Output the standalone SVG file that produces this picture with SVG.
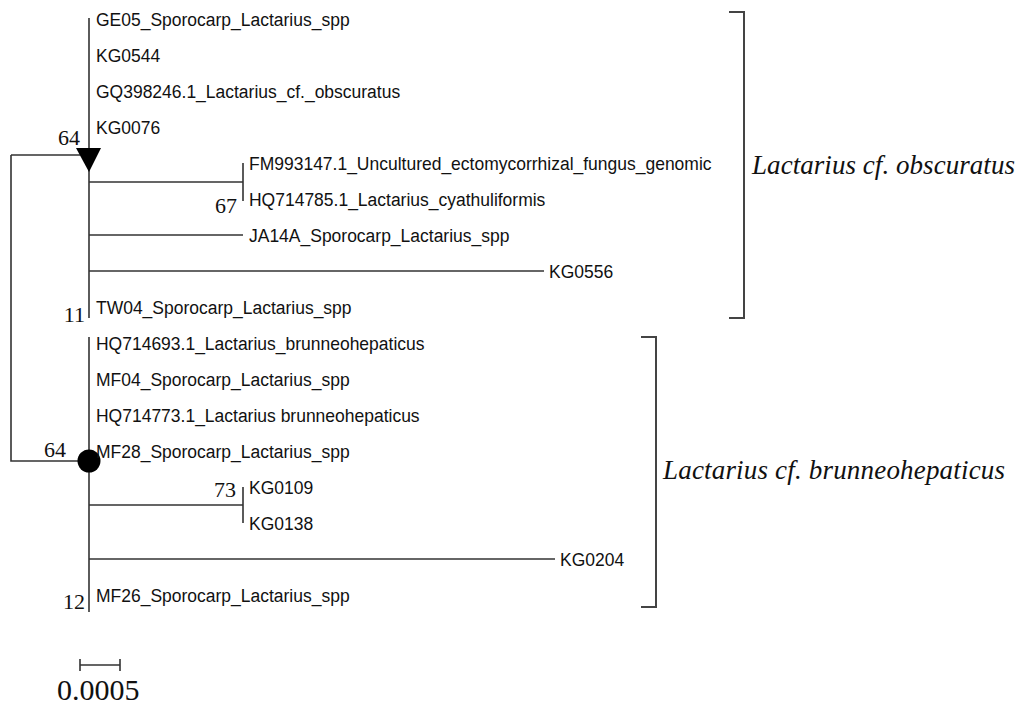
<svg xmlns="http://www.w3.org/2000/svg" width="1021" height="709" viewBox="0 0 1021 709">
<style>
.lf{font-family:"Liberation Sans",Arial,sans-serif;font-size:17.5px;fill:#111}
.bs{font-family:"Liberation Serif","Times New Roman",serif;font-size:22px;fill:#111}
.cl{font-family:"Liberation Serif","Times New Roman",serif;font-style:italic;font-size:27px;fill:#111}
.br{fill:none;stroke:#333;stroke-width:1.6}
.bk{fill:none;stroke:#444;stroke-width:2}
</style>
<rect width="1021" height="709" fill="#fff"/>
<g id="connectors" class="br">
<path d="M89 18V318"/>
<path d="M11 155H80M11 155V461H80"/>
<path d="M89 182H243M243 163V201"/>
<path d="M89 235H243"/>
<path d="M89 271H544"/>
<path d="M89 337V612"/>
<path d="M89 505H243M243 487V523"/>
<path d="M89 559H555"/>
</g>
<g id="node-triangle"><polygon points="76,148 101,148 89,172" fill="#000"/></g>
<g id="node-circle"><circle cx="89" cy="461" r="11.5" fill="#000"/></g>
<g id="leaves">
<g id="GE05"><text class="lf" transform="translate(96,26) scale(1,1.1)">GE05_Sporocarp_Lactarius_spp</text></g>
<g id="KG0544"><text class="lf" transform="translate(96,62) scale(1,1.1)">KG0544</text></g>
<g id="GQ398246"><text class="lf" transform="translate(96,98) scale(1,1.1)">GQ398246.1_Lactarius_cf._obscuratus</text></g>
<g id="KG0076"><text class="lf" transform="translate(96,134) scale(1,1.1)">KG0076</text></g>
<g id="FM993147"><text class="lf" transform="translate(249,170) scale(1,1.1)">FM993147.1_Uncultured_ectomycorrhizal_fungus_genomic</text></g>
<g id="HQ714785"><text class="lf" transform="translate(249,206) scale(1,1.1)">HQ714785.1_Lactarius_cyathuliformis</text></g>
<g id="JA14A"><text class="lf" transform="translate(249,242) scale(1,1.1)">JA14A_Sporocarp_Lactarius_spp</text></g>
<g id="KG0556"><text class="lf" transform="translate(549,278) scale(1,1.1)">KG0556</text></g>
<g id="TW04"><text class="lf" transform="translate(96,314) scale(1,1.1)">TW04_Sporocarp_Lactarius_spp</text></g>
<g id="HQ714693"><text class="lf" transform="translate(96,350) scale(1,1.1)">HQ714693.1_Lactarius_brunneohepaticus</text></g>
<g id="MF04"><text class="lf" transform="translate(96,386) scale(1,1.1)">MF04_Sporocarp_Lactarius_spp</text></g>
<g id="HQ714773"><text class="lf" transform="translate(96,422) scale(1,1.1)">HQ714773.1_Lactarius brunneohepaticus</text></g>
<g id="MF28"><text class="lf" transform="translate(96,458) scale(1,1.1)">MF28_Sporocarp_Lactarius_spp</text></g>
<g id="KG0109"><text class="lf" transform="translate(249,494) scale(1,1.1)">KG0109</text></g>
<g id="KG0138"><text class="lf" transform="translate(249,530) scale(1,1.1)">KG0138</text></g>
<g id="KG0204"><text class="lf" transform="translate(560,566) scale(1,1.1)">KG0204</text></g>
<g id="MF26"><text class="lf" transform="translate(96,602) scale(1,1.1)">MF26_Sporocarp_Lactarius_spp</text></g>
</g>
<g id="bootstrap">
<text class="bs" x="80" y="145" text-anchor="end">64</text>
<text class="bs" x="237" y="213" text-anchor="end">67</text>
<text class="bs" x="85" y="322" text-anchor="end">11</text>
<text class="bs" x="66" y="457" text-anchor="end">64</text>
<text class="bs" x="236" y="497" text-anchor="end">73</text>
<text class="bs" x="85" y="609" text-anchor="end">12</text>
</g>
<g id="clade-obscuratus">
<path class="bk" d="M729 12H744V318H729"/>
<text class="cl" x="752" y="174" textLength="263">Lactarius cf. obscuratus</text>
</g>
<g id="clade-brunneohepaticus">
<path class="bk" d="M641 337H656V607H641"/>
<text class="cl" x="663" y="479" textLength="342">Lactarius cf. brunneohepaticus</text>
</g>
<g id="scalebar">
<path class="br" d="M80 665H120M80 659V671M120 659V671"/>
<text x="57" y="700" font-family="'Liberation Serif','Times New Roman',serif" font-size="30" fill="#111">0.0005</text>
</g>
</svg>
